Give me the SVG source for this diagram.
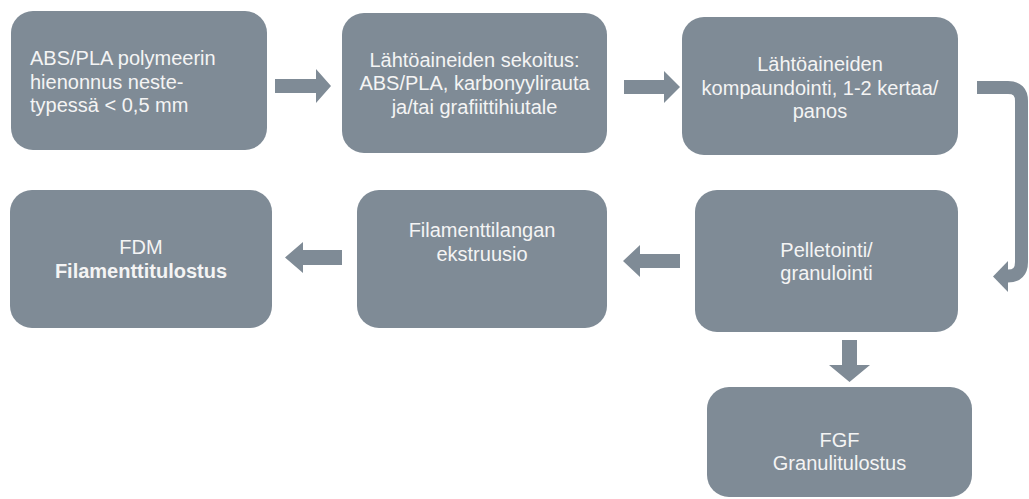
<svg xmlns="http://www.w3.org/2000/svg" width="1029" height="499" viewBox="0 0 1029 499">
<style>
.box{fill:#7f8b96}
.t{font-family:"Liberation Sans",Arial,sans-serif;font-size:20px;fill:#f4f4f4}
.c{text-anchor:middle}
.b{font-weight:bold}
.ar{fill:#7f8b96}
.bent{fill:none;stroke:#7f8b96;stroke-width:13}
</style>
<rect width="1029" height="499" fill="#ffffff"/>
<g id="connectors">
<polygon class="ar" points="275,79 316,79 316,69 331,86 316,103 316,93 275,93"/>
<polygon class="ar" points="624,80 664,80 664,71 680,87 664,103 664,94 624,94"/>
<polygon class="ar" points="680,254 640,254 640,245 623,261 640,277 640,268 680,268"/>
<polygon class="ar" points="342,250 303,250 303,242 285,257.5 303,273 303,265 342,265"/>
<polygon class="ar" points="842,340 857,340 857,365 870,365 849.5,382 829,365 842,365"/>
<path class="bent" d="M977,87.5 H1008 Q1021.5,87.5 1021.5,101 V262 Q1021.5,276 1008,276 H1006"/>
<polygon class="ar" points="1008,261 1008,292 993,276.5"/>
</g>
<g id="n1">
<rect class="box" x="11" y="11" width="256" height="139" rx="22"/>
<text class="t" x="30" y="65">ABS/PLA polymeerin</text>
<text class="t" x="30" y="88.5">hienonnus neste-</text>
<text class="t" x="30" y="112">typessä &lt; 0,5 mm</text>
</g>
<g id="n2">
<rect class="box" x="342" y="13" width="265" height="140" rx="22"/>
<text class="t c" x="474.5" y="66.5">Lähtöaineiden sekoitus:</text>
<text class="t c" x="474.5" y="90">ABS/PLA, karbonyylirauta</text>
<text class="t c" x="474.5" y="113.5">ja/tai grafiittihiutale</text>
</g>
<g id="n3">
<rect class="box" x="682" y="17" width="276" height="138" rx="22"/>
<text class="t c" x="820" y="71">Lähtöaineiden</text>
<text class="t c" x="820" y="94.5">kompaundointi, 1-2 kertaa/</text>
<text class="t c" x="820" y="118">panos</text>
</g>
<g id="n4">
<rect class="box" x="695" y="190" width="263" height="142" rx="22"/>
<text class="t c" x="826.5" y="256.5">Pelletointi/</text>
<text class="t c" x="826.5" y="280">granulointi</text>
</g>
<g id="n5">
<rect class="box" x="357" y="190" width="250" height="138" rx="22"/>
<text class="t c" x="482" y="237">Filamenttilangan</text>
<text class="t c" x="482" y="260.5">ekstruusio</text>
</g>
<g id="n6">
<rect class="box" x="10" y="190" width="262" height="138" rx="22"/>
<text class="t c" x="141" y="254">FDM</text>
<text class="t c b" x="141" y="278">Filamenttitulostus</text>
</g>
<g id="n7">
<rect class="box" x="707" y="387" width="265" height="110" rx="22"/>
<text class="t c" x="839.5" y="447">FGF</text>
<text class="t c" x="839.5" y="470">Granulitulostus</text>
</g>
</svg>
